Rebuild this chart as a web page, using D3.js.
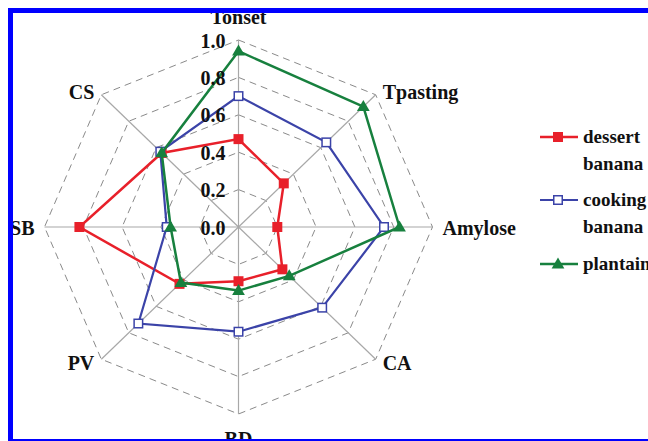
<!DOCTYPE html>
<html>
<head>
<meta charset="utf-8">
<script src="https://cdn.jsdelivr.net/npm/d3@7"></script>
<style>
  html, body { margin: 0; padding: 0; background: #fff; }
  svg { display: block; }
  text { font-family: "Liberation Serif", "Times New Roman", serif; font-weight: bold; fill: #111; }
</style>
</head>
<body>
<svg id="chart" width="648" height="441"></svg>
<script>
// Radar axes, clockwise from the top
const axes = ["Tonset", "Tpasting", "Amylose", "CA", "BD", "PV", "SB", "CS"];
// Normalised property values per banana type (0..1)
const dessertBanana = [0.47, 0.33, 0.20, 0.32, 0.29, 0.43, 0.82, 0.56];
const cookingBanana = [0.70, 0.64, 0.75, 0.61, 0.56, 0.73, 0.37, 0.57];
const plantain      = [0.94, 0.91, 0.83, 0.37, 0.34, 0.42, 0.35, 0.56];
const seriesNames = [["dessert", "banana"], ["cooking", "banana"], ["plantain"]];
const tickValues = [0, 0.2, 0.4, 0.6, 0.8, 1.0];
const tickLabels = ["0.0", "0.2", "0.4", "0.6", "0.8", "1.0"];

const series = [
  { values: dessertBanana, name: seriesNames[0], color: "#e8202a", marker: "square", filled: true, width: 2.5 },
  { values: cookingBanana, name: seriesNames[1], color: "#3b43a8", marker: "square", filled: false, width: 2.2 },
  { values: plantain,      name: seriesNames[2], color: "#17803e", marker: "triangle", filled: true, width: 2.5 }
];

const svg = d3.select("#chart");
const cx = 238.5, cy = 227, rx = 194, ry = 187;

const x = d3.scaleLinear().domain([-1, 1]).range([cx - rx, cx + rx]);
const y = d3.scaleLinear().domain([-1, 1]).range([cy + ry, cy - ry]);
const angle = d3.scalePoint().domain(axes).range([0, 2 * Math.PI * (axes.length - 1) / axes.length]);

function pt(axis, v) {
  const a = angle(axis);
  return [x(v * Math.sin(a)), y(v * Math.cos(a))];
}

const line = d3.line().curve(d3.curveLinearClosed);

// Dashed grid rings
const g = svg.append("g");
tickValues.filter(t => t > 0).forEach(t => {
  g.append("path")
    .attr("d", line(axes.map(a => pt(a, t))))
    .attr("fill", "none")
    .attr("stroke", "#8a8a8a")
    .attr("stroke-width", 1)
    .attr("stroke-dasharray", "7,5");
});

// Spokes
axes.forEach(a => {
  const [x1, y1] = pt(a, 0), [x2, y2] = pt(a, 1);
  g.append("line").attr("x1", x1).attr("y1", y1).attr("x2", x2).attr("y2", y2)
    .attr("stroke", "#a8a8a8").attr("stroke-width", 1.2);
});

// Axis titles
axes.forEach(a => {
  const ang = angle(a);
  const s = Math.sin(ang), c = Math.cos(ang);
  const [ex, ey] = pt(a, 1);
  let anchor, tx, ty;
  if (Math.abs(s) < 0.01) {
    anchor = "middle"; tx = ex; ty = c > 0 ? ey - 16 : ey + 32;
  } else {
    anchor = s > 0 ? "start" : "end";
    tx = ex + (s > 0 ? 1 : -1) * (Math.abs(s) > 0.9 ? 10 : 7);
    ty = ey + 7.5 - 4.5 * c;
  }
  svg.append("text").attr("x", tx).attr("y", ty).attr("text-anchor", anchor)
    .attr("font-size", 20).text(a);
});

function drawMarker(sel, s, px, py, size) {
  if (s.marker === "square") {
    const w = s.filled ? size : size - 1.5;
    sel.append("rect").attr("x", px - w / 2).attr("y", py - w / 2)
      .attr("width", w).attr("height", w)
      .attr("fill", s.filled ? s.color : "#fff")
      .attr("stroke", s.color).attr("stroke-width", s.filled ? 0 : 1.5);
  } else {
    const h = size + 1;
    sel.append("path")
      .attr("d", `M${px},${py - h * 0.6}L${px + h * 0.58},${py + h * 0.4}L${px - h * 0.58},${py + h * 0.4}Z`)
      .attr("fill", s.color);
  }
}

// Series polygons and markers
series.forEach(s => {
  const pts = axes.map((a, i) => pt(a, s.values[i]));
  const sg = svg.append("g");
  sg.append("path").attr("d", line(pts)).attr("fill", "none")
    .attr("stroke", s.color).attr("stroke-width", s.width).attr("stroke-linejoin", "miter");
  pts.forEach(p => drawMarker(sg, s, p[0], p[1], 10));
});

// Radial tick labels along the top axis
tickValues.forEach((t, i) => {
  const [, py] = pt(axes[0], t);
  svg.append("text").attr("x", cx - 13).attr("y", py + 7.5)
    .attr("text-anchor", "end").attr("font-size", 20).text(tickLabels[i]);
});

// Legend
const legendRows = [137, 200, 264];
series.forEach((s, i) => {
  const ly = legendRows[i];
  const lg = svg.append("g");
  lg.append("line").attr("x1", 540).attr("x2", 578).attr("y1", ly).attr("y2", ly)
    .attr("stroke", s.color).attr("stroke-width", s.width);
  drawMarker(lg, s, 558, ly, 10);
  s.name.forEach((word, j) => {
    lg.append("text").attr("x", 583).attr("y", ly + 6 + j * 27)
      .attr("font-size", 19).text(word);
  });
});

// Frame
svg.append("rect").attr("x", 10.5).attr("y", 10.5).attr("width", 700).attr("height", 431)
  .attr("fill", "none").attr("stroke", "#0000ff").attr("stroke-width", 5);
</script>
</body>
</html>
